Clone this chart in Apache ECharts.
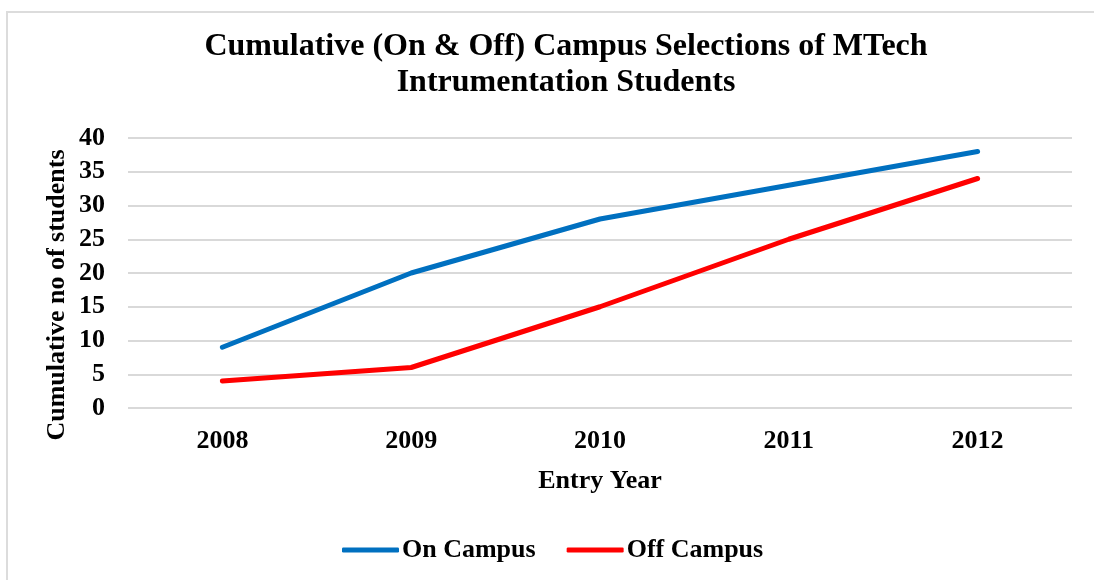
<!DOCTYPE html>
<html>
<head>
<meta charset="utf-8">
<script src="https://cdn.jsdelivr.net/npm/echarts@6/dist/echarts.min.js"></script>
<style>
  html, body { margin: 0; padding: 0; background: #fff; }
  #frame { position: absolute; left: 6px; top: 11px; width: 1200px; height: 700px; border: 2px solid #dcdcdc; box-sizing: border-box; }
  #chart { position: absolute; left: 0; top: 0; width: 1094px; height: 580px; }
</style>
</head>
<body>
<div id="frame"></div>
<div id="chart"></div>
<script>
  // data
  var years = ['2008', '2009', '2010', '2011', '2012'];
  var onCampus = [9, 20, 28, 33, 38];
  var offCampus = [4, 6, 15, 25, 34];

  var serif = '"Liberation Serif", "Times New Roman", serif';

  var myChart = echarts.init(document.getElementById('chart'));
  myChart.setOption({
    animation: false,
    textStyle: { fontFamily: serif },
    title: {
      text: 'Cumulative (On & Off) Campus Selections of MTech\nIntrumentation Students',
      left: 561,
      top: 24,
      textAlign: 'center',
      textStyle: { fontFamily: serif, fontSize: 32, fontWeight: 'bold', color: '#000', lineHeight: 36 }
    },
    legend: {
      left: 337,
      top: 532,
      icon: 'roundRect',
      itemWidth: 57,
      itemHeight: 5,
      itemGap: 31,
      textStyle: { fontFamily: serif, fontSize: 26, fontWeight: 'bold', color: '#000', padding: [0, 0, 0, -2] },
      data: ['On Campus', 'Off Campus']
    },
    grid: { left: 128, right: 22, top: 138, bottom: 172 },
    xAxis: {
      type: 'category',
      data: years,
      boundaryGap: true,
      axisLine: { show: false },
      axisTick: { show: false },
      axisLabel: { margin: 20, fontSize: 26, fontWeight: 'bold', color: '#000', fontFamily: serif },
      name: 'Entry Year',
      nameLocation: 'middle',
      nameGap: 60,
      nameTextStyle: { fontSize: 26, fontWeight: 'bold', color: '#000', fontFamily: serif }
    },
    yAxis: {
      type: 'value',
      min: 0,
      max: 40,
      interval: 5,
      axisLine: { show: false },
      axisTick: { show: false },
      splitLine: { lineStyle: { color: '#d9d9d9', width: 2 } },
      axisLabel: { margin: 23, fontSize: 26, fontWeight: 'bold', color: '#000', fontFamily: serif }
    },
    graphic: [{
      type: 'text',
      x: 57,
      y: 295,
      rotation: Math.PI / 2,
      style: {
        text: 'Cumulative no of students',
        fontFamily: serif,
        fontSize: 26,
        fontWeight: 'bold',
        fill: '#000',
        align: 'center',
        verticalAlign: 'middle'
      }
    }],
    series: [
      {
        name: 'On Campus',
        type: 'line',
        data: onCampus,
        symbol: 'none',
        color: '#0070C0',
        lineStyle: { width: 5, color: '#0070C0', cap: 'round' }
      },
      {
        name: 'Off Campus',
        type: 'line',
        data: offCampus,
        symbol: 'none',
        color: '#FF0000',
        lineStyle: { width: 5, color: '#FF0000', cap: 'round' }
      }
    ]
  });
</script>
</body>
</html>
